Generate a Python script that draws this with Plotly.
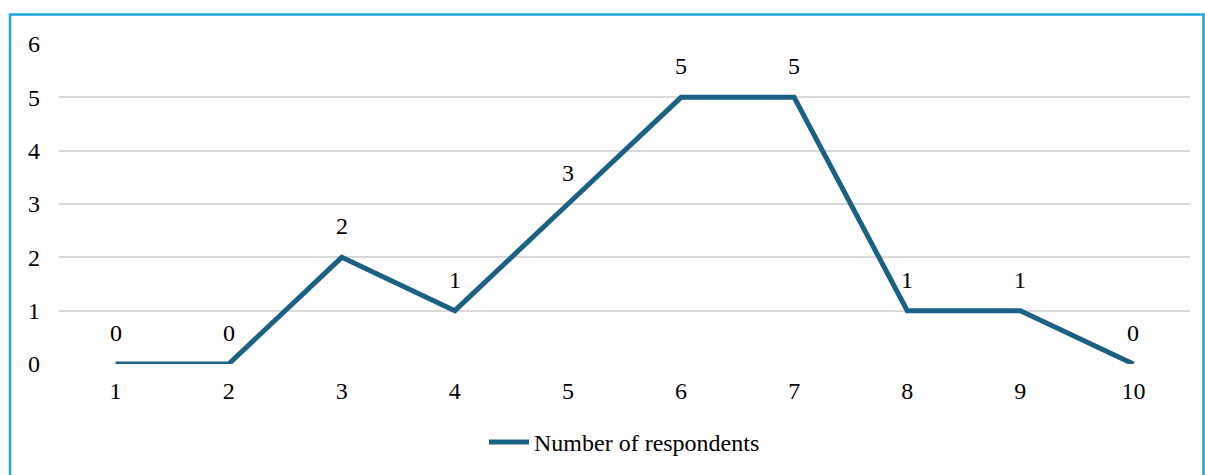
import plotly.graph_objects as go

# Rating scale (x) and how many respondents gave each rating (y)
ratings = [1, 2, 3, 4, 5, 6, 7, 8, 9, 10]
respondents = [0, 0, 2, 1, 3, 5, 5, 1, 1, 0]
series_name = "Number of respondents"

line_color = "#1b6184"
grid_color = "#d9d9d9"
frame_color = "#1ea6dc"
font_family = "Liberation Serif"
font_size = 24

fig = go.Figure()
fig.add_trace(go.Scatter(
    x=ratings,
    y=respondents,
    mode="lines",
    name=series_name,
    line=dict(color=line_color, width=5),
    showlegend=True,
))

# Value labels above each point
for xv, yv in zip(ratings, respondents):
    fig.add_annotation(
        x=xv, y=yv, text=str(yv), showarrow=False,
        yshift=31, font=dict(family=font_family, size=font_size, color="#000000"),
    )

# Outer frame (top, left, right edges)
fig.add_shape(
    type="path", xref="paper", yref="paper",
    path="M -0.0433,-0.5 L -0.0433,1.0925 L 1.0120,1.0925 L 1.0120,-0.5",
    line=dict(color=frame_color, width=2.5),
)

fig.update_layout(
    width=1205, height=475,
    margin=dict(l=59, r=15, t=44, b=111, autoexpand=False),
    paper_bgcolor="white", plot_bgcolor="white",
    font=dict(family=font_family, size=font_size, color="#000000"),
    xaxis=dict(
        range=[0.5, 10.5], tickmode="array", tickvals=ratings,
        showgrid=False, zeroline=False, showline=False,
        ticks="", ticklabelstandoff=10,
    ),
    yaxis=dict(
        range=[0, 6], tickmode="array", tickvals=[0, 1, 2, 3, 4, 5, 6],
        showgrid=True, gridcolor=grid_color, gridwidth=1.5,
        zeroline=False, showline=False, ticks="", ticklabelstandoff=18,
    ),
    legend=dict(
        orientation="h", x=0.5, xanchor="center", y=-0.245, yanchor="middle",
        font=dict(family=font_family, size=font_size), itemwidth=40,
    ),
)

fig.write_html("out.html")
